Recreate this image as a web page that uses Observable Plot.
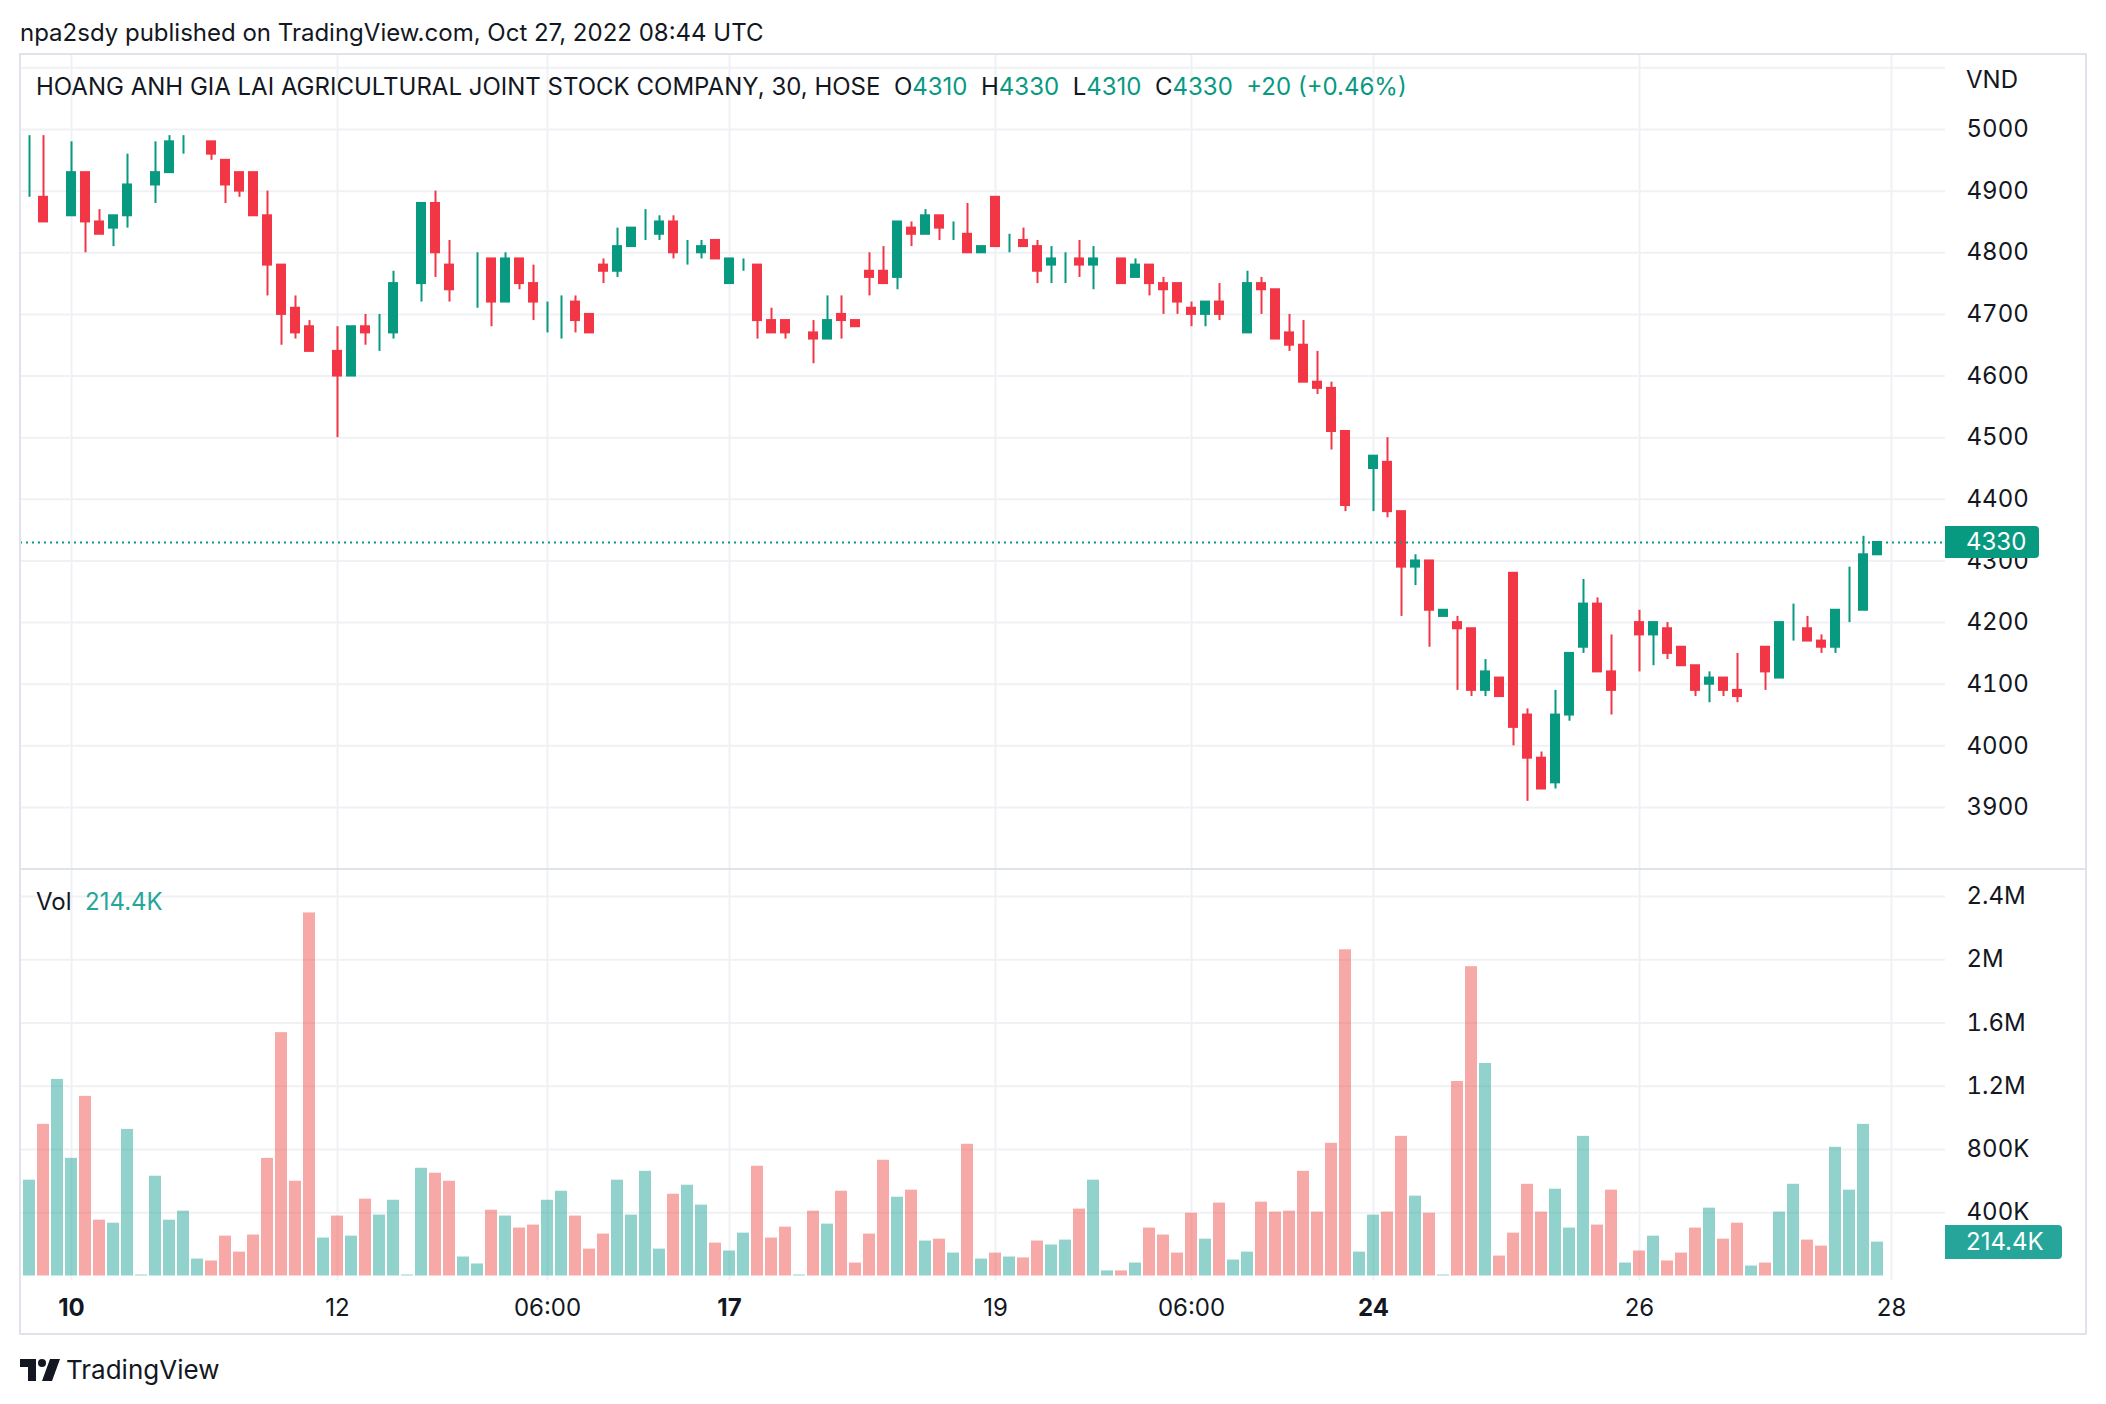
<!DOCTYPE html>
<html>
<head>
<meta charset="utf-8">
<script src="https://cdn.jsdelivr.net/npm/d3@7"></script>
<script src="https://cdn.jsdelivr.net/npm/@observablehq/plot@0.6"></script>
<style>
  html, body { margin: 0; padding: 0; background: #ffffff; }
  body { font-family: Inter, "Noto Sans", Roboto, sans-serif; color: #131722; }
  #root { position: relative; width: 2106px; height: 1404px; overflow: hidden; background: #fff; }
  .abs { position: absolute; white-space: nowrap; }
  #byline { left: 20px; top: 18px; font-size: 24px; line-height: 30px; }
  #title { left: 36px; top: 72px; font-size: 24px; line-height: 30px; }
  #title .g, #vollab .g { color: #089981; }
  #vollab .t { color: #26a69a; }
  #vollab { left: 36px; top: 887px; font-size: 24px; line-height: 30px; }
  #frame { left: 19px; top: 53px; width: 2068px; height: 1282px; box-sizing: border-box; border: 2px solid #e0e3eb; pointer-events: none; }
  #divider { left: 20px; top: 868px; width: 2066px; height: 2px; background: #e0e3eb; }
  .tag { color: #fff; font-size: 24px; line-height: 32px; height: 32px; padding-left: 21px; box-sizing: border-box; border-radius: 0 4px 4px 0; }
  #logo { left: 20px; top: 1355px; font-size: 26px; line-height: 30px; display: flex; align-items: center; gap: 6px; }
</style>
</head>
<body>
<div id="root"></div>
<script>
// ---- data (HAG, 30-minute bars, Oct 7 – Oct 27, 2022) ----
const opens = [4890,4890,4840,4860,4930,4850,4840,4860,4900,4910,4930,4980,4980,4980,4950,4930,4930,4860,4780,4710,
  4680,4640,4640,4600,4680,4670,4670,4750,4750,4880,4780,4710,4800,4790,4720,4790,4750,4720,4720,4720,
  4700,4780,4770,4810,4830,4830,4850,4790,4800,4820,4750,4790,4780,4690,4690,4670,4670,4660,4700,4690,
  4770,4770,4760,4840,4830,4860,4840,4830,4800,4890,4810,4820,4810,4780,4790,4790,4780,4790,4790,4760,
  4780,4750,4750,4710,4700,4720,4700,4670,4750,4740,4670,4650,4590,4580,4510,4380,4450,4460,4380,4290,
  4300,4210,4200,4190,4090,4110,4280,4050,3980,3940,4050,4160,4230,4120,4090,4200,4180,4190,4160,4130,
  4100,4110,4090,4090,4160,4110,4200,4190,4170,4160,4230,4220,4310];
const highs = [4990,4990,4840,4980,4930,4870,4860,4960,4900,4980,4990,4990,4980,4980,4950,4930,4930,4900,4780,4730,
  4690,4640,4680,4680,4700,4700,4770,4750,4880,4900,4820,4710,4800,4790,4800,4790,4780,4720,4730,4730,
  4700,4790,4840,4840,4870,4860,4860,4820,4820,4820,4790,4790,4780,4710,4690,4670,4690,4730,4730,4690,
  4800,4810,4850,4850,4870,4860,4850,4880,4810,4890,4830,4840,4820,4810,4800,4820,4810,4790,4790,4790,
  4780,4760,4750,4720,4720,4750,4700,4770,4760,4740,4700,4690,4640,4590,4510,4380,4470,4500,4380,4310,
  4300,4220,4210,4190,4140,4110,4280,4060,3990,4090,4150,4270,4240,4180,4090,4220,4200,4200,4160,4130,
  4120,4110,4150,4090,4160,4200,4230,4210,4180,4220,4290,4340,4330];
const lows = [4890,4850,4840,4860,4800,4830,4810,4840,4900,4880,4930,4960,4980,4950,4880,4890,4860,4730,4650,4660,
  4640,4640,4500,4600,4650,4640,4660,4750,4720,4760,4720,4710,4710,4680,4720,4740,4690,4670,4660,4670,
  4670,4750,4760,4810,4820,4820,4790,4780,4790,4790,4750,4770,4660,4670,4660,4670,4620,4660,4660,4680,
  4730,4750,4740,4810,4830,4820,4820,4800,4800,4810,4800,4810,4750,4750,4750,4760,4740,4790,4750,4760,
  4730,4700,4700,4680,4680,4690,4700,4670,4700,4660,4640,4590,4570,4480,4380,4380,4380,4370,4210,4260,
  4160,4210,4090,4080,4080,4080,4000,3910,3930,3930,4040,4150,4120,4050,4090,4120,4130,4140,4130,4080,
  4070,4080,4070,4090,4090,4110,4170,4170,4150,4150,4200,4220,4310];
const closes = [4890,4850,4840,4930,4850,4830,4860,4910,4900,4930,4980,4980,4980,4960,4910,4900,4860,4780,4700,4670,
  4640,4640,4600,4680,4670,4670,4750,4750,4880,4800,4740,4710,4800,4720,4790,4750,4720,4720,4720,4690,
  4670,4770,4810,4840,4830,4850,4800,4790,4810,4790,4790,4790,4690,4670,4670,4670,4660,4690,4690,4680,
  4760,4750,4850,4830,4860,4840,4840,4800,4810,4810,4810,4810,4770,4790,4790,4780,4790,4790,4750,4780,
  4750,4740,4720,4700,4720,4700,4700,4750,4740,4660,4650,4590,4580,4510,4390,4380,4470,4380,4290,4300,
  4220,4220,4190,4090,4120,4080,4030,3980,3930,4050,4150,4230,4120,4090,4090,4180,4200,4150,4130,4090,
  4110,4090,4080,4090,4120,4200,4200,4170,4160,4220,4230,4310,4330];
// volume in thousands of shares
const volumesK = [606,959,1243,744,1136,353,334,927,6,631,353,410,107,95,252,151,259,744,1539,599,
  2296,240,379,252,486,385,479,6,681,650,599,120,76,416,379,303,322,479,536,379,
  170,265,606,385,662,170,517,574,448,208,158,271,694,240,309,6,410,328,536,82,
  265,732,498,543,221,233,145,833,107,145,120,114,221,196,227,423,606,32,32,82,
  303,259,145,397,233,461,101,151,467,404,410,662,404,839,2063,151,385,404,883,505,
  397,6,1230,1956,1344,126,271,580,404,549,303,883,322,543,82,158,252,95,145,303,
  429,233,334,63,82,404,580,227,189,814,543,959,214.4];

// time-axis ticks (bar index where each label sits)
const tickIdx    = [3, 22, 37, 50, 69, 83, 96, 115, 133];
const tickLabels = ["10", "12", "06:00", "17", "19", "06:00", "24", "26", "28"];
const boldLabels = ["10", "17", "24"];
const priceTicks = [3900, 4000, 4100, 4200, 4300, 4400, 4500, 4600, 4700, 4800, 4900, 5000];
const priceGrid  = [3900, 4000, 4100, 4200, 4300, 4400, 4500, 4600, 4700, 4800, 4900, 5000, 5100];
const volTicks      = [400000, 800000, 1200000, 1600000, 2000000, 2400000];
const volTickLabels = ["400K", "800K", "1.2M", "1.6M", "2M", "2.4M"];
const symbolName = "HOANG ANH GIA LAI AGRICULTURAL JOINT STOCK COMPANY, 30, HOSE";
const currency = "VND";

// ---- styling ----
const UP = "#089981", DOWN = "#f23645";
const VUP = "rgba(38,166,154,0.5)", VDOWN = "rgba(239,83,80,0.5)";
const GRID = "#f0f1f4";
const TEXT = "#131722";
const FONT = "Inter, 'Noto Sans', Roboto, sans-serif";

const n = opens.length;
const data = d3.range(n).map(i => ({
  i, o: opens[i], h: highs[i], l: lows[i], c: closes[i],
  v: volumesK[i] * 1000, up: closes[i] >= opens[i]
}));
const slots = d3.range(n + 4); // empty slots to the right of the last bar
const last = data[n - 1];
const prevClose = closes[n - 2];

const root = document.getElementById("root");
function div(id, cls, html) {
  const d = document.createElement("div");
  if (id) d.id = id;
  d.className = "abs" + (cls ? " " + cls : "");
  if (html != null) d.innerHTML = html;
  root.appendChild(d);
  return d;
}

const W = 2066, MR = 141;
const xScale = {type: "band", domain: slots, range: [-3, W - MR], padding: 0, axis: null};
const baseStyle = {fontFamily: FONT, fontSize: "24px", color: TEXT, background: "transparent", overflow: "visible"};

// ---- price pane ----
const price = Plot.plot({
  width: W, height: 815,
  marginLeft: 0, marginRight: MR, marginTop: 0, marginBottom: 0,
  style: baseStyle,
  x: xScale,
  y: {domain: [3900, 5000], range: [753, 75], axis: null},
  color: {type: "identity"},
  marks: [
    Plot.ruleY(priceGrid, {stroke: GRID, strokeWidth: 2}),
    Plot.ruleX(tickIdx, {stroke: GRID, strokeWidth: 2}),
    Plot.axisY({anchor: "right", ticks: priceTicks, tickSize: 0, tickPadding: 21,
      tickFormat: d => String(d), fontSize: 24, fill: TEXT, label: null}),
    Plot.ruleX(data, {x: "i", y1: "l", y2: "h", stroke: d => d.up ? UP : DOWN, strokeWidth: 2}),
    Plot.barY(data, {x: "i", y1: "o", y2: "c", fill: d => d.up ? UP : DOWN,
      stroke: d => d.up ? UP : DOWN, strokeWidth: 2, insetLeft: 3, insetRight: 3}),
    Plot.ruleY([last.c], {stroke: UP, strokeWidth: 2, strokeDasharray: "2 4"})
  ]
});
price.style.position = "absolute";
price.style.left = "20px";
price.style.top = "54px";
root.appendChild(price);

// ---- volume pane ----
const vol = Plot.plot({
  width: W, height: 465,
  marginLeft: 0, marginRight: MR, marginTop: 0, marginBottom: 54,
  style: baseStyle,
  x: xScale,
  y: {domain: [0, 2400000], range: [406.5, 27], axis: null},
  color: {type: "identity"},
  marks: [
    Plot.ruleY(volTicks, {stroke: GRID, strokeWidth: 2}),
    Plot.ruleX(tickIdx, {stroke: GRID, strokeWidth: 2}),
    Plot.barY(data, {x: "i", y: "v", fill: d => d.up ? VUP : VDOWN, insetLeft: 1, insetRight: 1}),
    Plot.axisY({anchor: "right", ticks: volTicks, tickSize: 0, tickPadding: 21,
      tickFormat: d => volTickLabels[volTicks.indexOf(d)], fontSize: 24, fill: TEXT, label: null}),
    Plot.axisX({ticks: tickIdx.filter((t, k) => !boldLabels.includes(tickLabels[k])),
      tickFormat: d => tickLabels[tickIdx.indexOf(d)], tickSize: 0, tickPadding: 18,
      fontSize: 24, fill: TEXT, label: null}),
    Plot.axisX({ticks: tickIdx.filter((t, k) => boldLabels.includes(tickLabels[k])),
      tickFormat: d => tickLabels[tickIdx.indexOf(d)], tickSize: 0, tickPadding: 18,
      fontSize: 24, fontWeight: "bold", fill: TEXT, label: null})
  ]
});
vol.style.position = "absolute";
vol.style.left = "20px";
vol.style.top = "869px";
root.appendChild(vol);

div("divider", "", null);
div("frame", "", null);

// texts drawn above the plots
div("byline", "", "npa2sdy published on TradingView.com, Oct 27, 2022 08:44 UTC");
const chg = last.c - prevClose;
const pct = (chg / prevClose * 100).toFixed(2);
div("title", "",
  `${symbolName}&nbsp;&nbsp;O<span class="g">${last.o}</span>&nbsp;&nbsp;H<span class="g">${last.h}</span>&nbsp;&nbsp;L<span class="g">${last.l}</span>&nbsp;&nbsp;C<span class="g">${last.c}</span>&nbsp;&nbsp;<span class="g">${chg >= 0 ? "+" : ""}${chg} (${chg >= 0 ? "+" : ""}${pct}%)</span>`);

// currency label on top of the price scale
const cur = div("cur", "", currency);
cur.style.left = "1966px"; cur.style.top = "64px"; cur.style.fontSize = "24px"; cur.style.lineHeight = "32px";

// last price tag, placed through the price scale
const yP = price.scale("y").apply(last.c) + 54;
const ptag = div("ptag", "tag", String(last.c));
ptag.style.left = (20 + W - MR) + "px"; ptag.style.top = (yP - 16) + "px";
ptag.style.width = "94px"; ptag.style.background = UP;

// volume label + last volume tag
const fmtK = v => (v / 1000).toFixed(1) + "K";
div("vollab", "", `Vol&nbsp;&nbsp;<span class="t">${fmtK(last.v)}</span>`);
const yV = vol.scale("y").apply(last.v) + 869;
const vtag = div("vtag", "tag", fmtK(last.v));
vtag.style.left = (20 + W - MR) + "px"; vtag.style.top = (yV - 17) + "px";
vtag.style.height = "34px"; vtag.style.lineHeight = "34px";
vtag.style.width = "117px"; vtag.style.background = "#26a69a";

// footer logo
div("logo", "",
  `<svg width="40" height="22" viewBox="0 0 40 22"><path d="M0 0H16V22H8V8H0Z" fill="${TEXT}"/><circle cx="22" cy="4" r="4" fill="${TEXT}"/><path d="M30 0H40L32 22H22Z" fill="${TEXT}"/></svg><span>TradingView</span>`);
</script>
</body>
</html>
